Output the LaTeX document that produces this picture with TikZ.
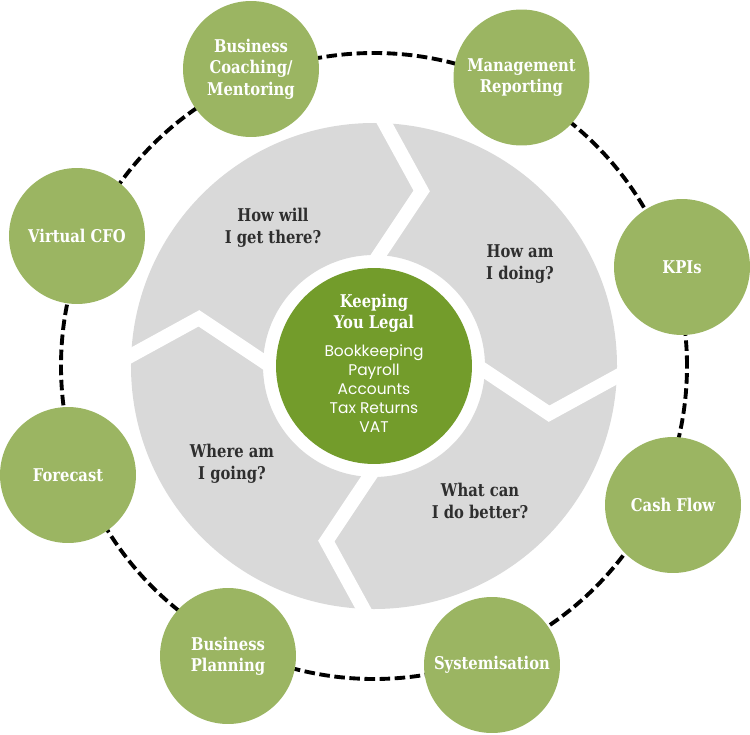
\documentclass[tikz,border=0pt]{standalone}
\usepackage{fontspec}
\usepackage{tikz}
\usetikzlibrary{calc}

\newfontfamily\slabfont{DejaVu Serif}[FakeStretch=0.84]
\newfontfamily\listfont{Poppins}
\definecolor{satgreen}{HTML}{9BB562}
\definecolor{coregreen}{HTML}{739C2B}
\definecolor{ringgray}{HTML}{D9D9D9}
\definecolor{qtext}{HTML}{2E2E2E}

\begin{document}
\begin{tikzpicture}[x=0.02cm, y=0.02cm,
    sat/.style={circle, fill=satgreen, minimum size=2.72cm, inner sep=0pt, align=center,
        text=white, font=\slabfont\bfseries\fontsize{10}{12.2}\selectfont},
    question/.style={align=center, text=qtext, font=\slabfont\bfseries\fontsize{10}{12.4}\selectfont},
    sepline/.style={white, line width=0.28cm, line join=miter}]
    \useasboundingbox (-374,-368) rectangle (376,366);

    % Dashed orbit behind the service circles
    \draw[black, line width=2.2pt, dash pattern=on 6pt off 2.6pt] (0,0) circle[radius=313];

    % Grey ring cut into four steps
    \fill[ringgray, even odd rule] (0,0) circle[radius=243] (0,0) circle[radius=111];
    \foreach \a in {87.5,-2.5,-92.5,177.5} {
        \coordinate (m) at ($(\a:177)+(\a-90:40)$);
        \draw[sepline] ($(m)!1.25!(\a:111)$) -- (m) -- ($(m)!1.25!(\a:243)$);
    }

    % Questions on the ring
    \node[question] (howwill) at (-101,138) {How will\\I get there?};
    \node[question] (howam) at (146,102) {How am\\I doing?};
    \node[question] (wheream) at (-142,-98) {Where am\\I going?};
    \node[question] (whatcan) at (106,-135) {What can\\I do better?};

    % Core circle
    \node[circle, fill=coregreen, minimum size=3.92cm, inner sep=0pt] (core) at (0,0) {};
    \node[align=center, text=white, font=\slabfont\bfseries\fontsize{10}{12}\selectfont] (legal) at (0,53) {Keeping\\You Legal};
    \node[align=center, text=white, font=\listfont\fontsize{8.8}{10.8}\selectfont] (tasks) at (0,-23) {Bookkeeping\\Payroll\\Accounts\\Tax Returns\\VAT};

    % Services
    \node[sat] (coach) at (-123,297) {Business\\Coaching/\\Mentoring};
    \node[sat] (mgmt) at (147.5,288.5) {Management\\Reporting};
    \node[sat] (kpi) at (308,99) {KPIs};
    \node[sat] (cash) at (299,-139) {Cash Flow};
    \node[sat] (syst) at (118,-299) {Systemisation};
    \node[sat] (plan) at (-146,-290) {Business\\Planning};
    \node[sat] (fcast) at (-306,-109) {Forecast};
    \node[sat] (vcfo) at (-297,130) {Virtual CFO};
\end{tikzpicture}
\end{document}
